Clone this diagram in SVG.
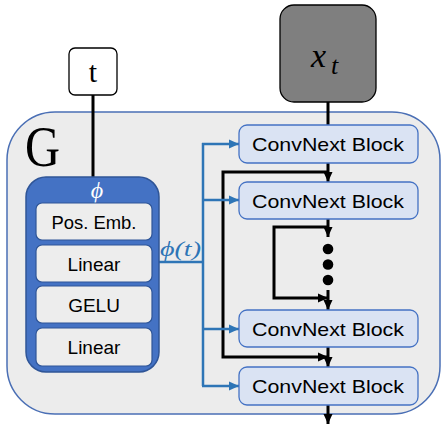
<svg xmlns="http://www.w3.org/2000/svg" width="442" height="424" viewBox="0 0 442 424">
<style>
.blk{fill:#dae3f3;stroke:#4472c4;stroke-width:1.3}
.inner{fill:#ededed;stroke:#2f5597;stroke-width:1.2}
.lbl{font-family:"Liberation Sans",Arial,sans-serif;font-size:19px;fill:#000;text-anchor:middle}
.k{stroke:#000;stroke-width:3;fill:none}
.b{stroke:#2e75b6;stroke-width:2.5;fill:none}
.math{font-family:"Liberation Serif","DejaVu Serif",serif;font-style:italic}
</style>
<defs>
<marker id="ak" markerUnits="userSpaceOnUse" markerWidth="10" markerHeight="10" refX="10" refY="5" orient="auto">
<path d="M0,0.5 L10,5 L0,9.5 z" fill="#000"/>
</marker>
<marker id="ab" markerUnits="userSpaceOnUse" markerWidth="10" markerHeight="10" refX="10" refY="5" orient="auto">
<path d="M0,0.5 L10,5 L0,9.5 z" fill="#2e75b6"/>
</marker>
</defs>
<rect width="442" height="424" fill="#fff"/>
<g id="G">
<rect x="7" y="112" width="433" height="302" rx="48" fill="#ececec" stroke="#4a6fb5" stroke-width="1.5"/>
<text x="25" y="166" font-family="Liberation Serif,serif" font-size="58" textLength="35" lengthAdjust="spacingAndGlyphs">G</text>
</g>
<g id="connectors">
<line class="k" x1="93" y1="95" x2="93" y2="177"/>
<line class="k" x1="328" y1="102" x2="328" y2="125"/>
<line class="k" x1="328" y1="163" x2="328" y2="182" marker-end="url(#ak)"/>
<polyline class="k" points="328,172 223,172 223,357 328,357" marker-end="url(#ak)"/>
<line class="k" x1="328" y1="219" x2="328" y2="237" marker-end="url(#ak)"/>
<polyline class="k" points="328,227 274,227 274,298 328,298" marker-end="url(#ak)"/>
<line class="k" x1="328" y1="290" x2="328" y2="310" marker-end="url(#ak)"/>
<line class="k" x1="328" y1="347" x2="328" y2="367" marker-end="url(#ak)"/>
<line class="k" x1="328" y1="405" x2="328" y2="424" marker-end="url(#ak)"/>
<circle cx="328" cy="249" r="5.3" fill="#000"/>
<circle cx="328" cy="264.5" r="5.3" fill="#000"/>
<circle cx="328" cy="280" r="5.3" fill="#000"/>
<polyline class="b" points="159,262 203,262"/>
<line class="b" x1="203" y1="143" x2="203" y2="386"/>
<line class="b" x1="202" y1="144" x2="239" y2="144" marker-end="url(#ab)"/>
<line class="b" x1="202" y1="200" x2="239" y2="200" marker-end="url(#ab)"/>
<line class="b" x1="202" y1="329" x2="239" y2="329" marker-end="url(#ab)"/>
<line class="b" x1="202" y1="386" x2="239" y2="386" marker-end="url(#ab)"/>
<text x="160" y="256" class="math" font-size="20" fill="#2e75b6" textLength="41" lengthAdjust="spacingAndGlyphs">ϕ(t)</text>
</g>
<g id="t">
<rect x="69" y="48" width="48" height="47" rx="6" fill="#fff" stroke="#000" stroke-width="1.3"/>
<text x="93" y="82" font-family="Liberation Serif,serif" font-size="30" text-anchor="middle">t</text>
</g>
<g id="xt">
<rect x="280" y="5" width="96" height="97" rx="14" fill="#7f7f7f" stroke="#000" stroke-width="1.3"/>
<text x="311" y="67" class="math" font-size="34">x</text>
<text x="331" y="74" class="math" font-size="26">t</text>
</g>
<g id="phi">
<rect x="26" y="177" width="133" height="195" rx="20" fill="#4472c4" stroke="#2f5597" stroke-width="1.5"/>
<text x="97" y="198" class="math" font-size="24" fill="#fff" text-anchor="middle">ϕ</text>
<rect class="inner" x="36" y="203" width="116" height="37" rx="6"/>
<text class="lbl" x="94" y="229" textLength="85" lengthAdjust="spacingAndGlyphs">Pos. Emb.</text>
<rect class="inner" x="36" y="245" width="116" height="37" rx="6"/>
<text class="lbl" x="94" y="271">Linear</text>
<rect class="inner" x="36" y="286" width="116" height="37" rx="6"/>
<text class="lbl" x="94" y="312">GELU</text>
<rect class="inner" x="36" y="328" width="116" height="38" rx="6"/>
<text class="lbl" x="94" y="354">Linear</text>
</g>
<g id="block1">
<rect class="blk" x="239" y="125" width="179" height="38" rx="8"/>
<text class="lbl" x="328" y="151" textLength="152" lengthAdjust="spacingAndGlyphs">ConvNext Block</text>
</g>
<g id="block2">
<rect class="blk" x="239" y="182" width="179" height="37" rx="8"/>
<text class="lbl" x="328" y="208" textLength="152" lengthAdjust="spacingAndGlyphs">ConvNext Block</text>
</g>
<g id="block3">
<rect class="blk" x="239" y="310" width="179" height="37" rx="8"/>
<text class="lbl" x="328" y="336" textLength="152" lengthAdjust="spacingAndGlyphs">ConvNext Block</text>
</g>
<g id="block4">
<rect class="blk" x="239" y="367" width="179" height="38" rx="8"/>
<text class="lbl" x="328" y="393" textLength="152" lengthAdjust="spacingAndGlyphs">ConvNext Block</text>
</g>
</svg>
